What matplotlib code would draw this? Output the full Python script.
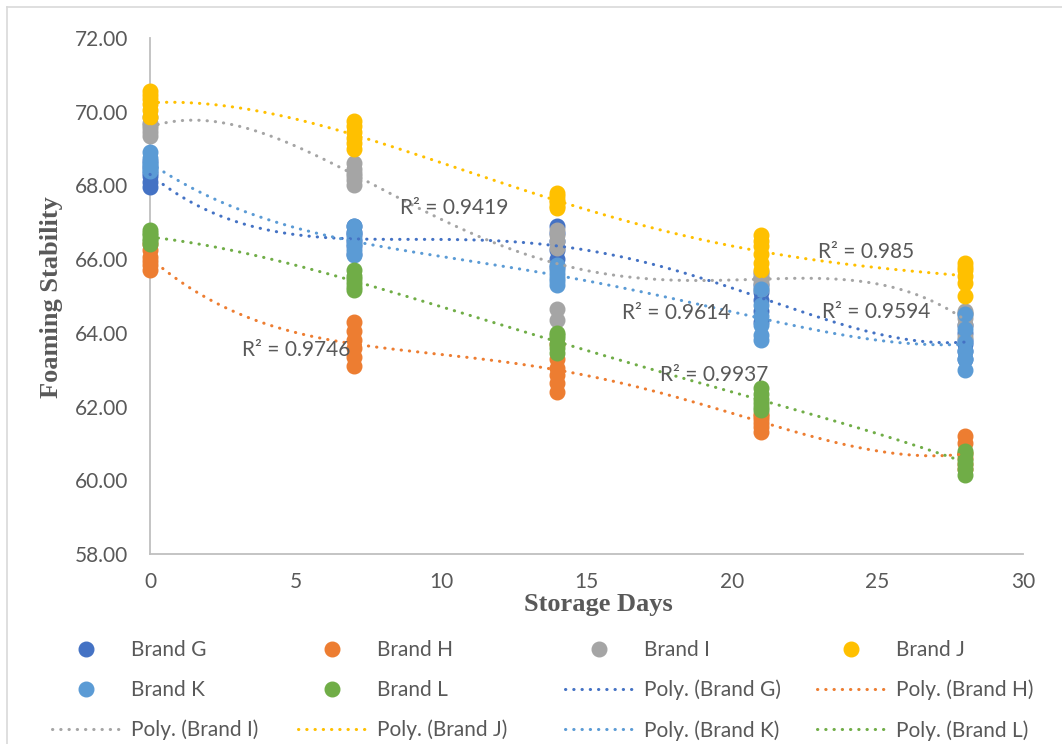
import matplotlib
matplotlib.use("Agg")
import matplotlib.pyplot as plt
from matplotlib.lines import Line2D
import numpy as np

plt.rcParams["font.family"] = ["Lato", "DejaVu Sans"]

days = [0, 7, 14, 21, 28]
brands = ["Brand G", "Brand H", "Brand I", "Brand J", "Brand K", "Brand L"]
colors = ["#4472C4", "#ED7D31", "#A5A5A5", "#FFC000", "#5B9BD5", "#70AD47"]

# replicate readings per storage day (0, 7, 14, 21, 28)
brand_g = [[67.95, 68.10, 68.25, 68.35, 68.50, 68.65],
           [66.15, 66.35, 66.50, 66.65, 66.75, 66.90],
           [65.80, 66.00, 66.25, 66.50, 66.70, 66.90],
           [64.30, 64.60, 64.90, 65.10, 65.30, 65.50],
           [63.30, 63.50, 63.70, 63.80, 64.00, 64.20]]
brand_h = [[65.70, 65.85, 65.95, 66.05, 66.25, 66.40],
           [63.10, 63.35, 63.60, 63.80, 64.05, 64.30],
           [62.40, 62.65, 62.85, 63.05, 63.30, 63.70],
           [61.30, 61.45, 61.55, 61.65, 61.75, 61.80],
           [60.30, 60.45, 60.60, 60.75, 61.00, 61.20]]
brand_i = [[69.35, 69.45, 69.55, 69.65, 69.70, 69.85],
           [68.00, 68.15, 68.25, 68.35, 68.45, 68.60],
           [64.35, 64.65, 66.30, 66.50, 66.65, 66.80],
           [65.20, 65.35, 65.45, 65.50, 65.60, 65.65],
           [63.90, 64.20, 64.40, 64.50, 64.55, 64.60]]
brand_j = [[69.85, 70.05, 70.20, 70.35, 70.45, 70.55],
           [69.00, 69.15, 69.30, 69.45, 69.60, 69.75],
           [67.40, 67.45, 67.55, 67.60, 67.70, 67.80],
           [65.70, 65.90, 66.15, 66.35, 66.50, 66.65],
           [65.00, 65.35, 65.55, 65.70, 65.80, 65.90]]
brand_k = [[68.40, 68.45, 68.55, 68.60, 68.75, 68.90],
           [66.10, 66.25, 66.40, 66.55, 66.70, 66.90],
           [65.30, 65.40, 65.50, 65.60, 65.70, 65.85],
           [63.80, 63.95, 64.20, 64.45, 64.75, 65.20],
           [63.00, 63.30, 63.50, 63.75, 64.10, 64.50]]
brand_l = [[66.40, 66.50, 66.55, 66.65, 66.70, 66.80],
           [65.15, 65.25, 65.35, 65.45, 65.55, 65.70],
           [63.45, 63.60, 63.70, 63.85, 63.95, 64.00],
           [61.90, 62.00, 62.10, 62.20, 62.35, 62.50],
           [60.15, 60.30, 60.45, 60.55, 60.70, 60.80]]
series = [brand_g, brand_h, brand_i, brand_j, brand_k, brand_l]

r2_labels = ["R² = 0.9419", "R² = 0.985", "R² = 0.9614",
             "R² = 0.9594", "R² = 0.9746", "R² = 0.9937"]

grey = "#595959"
dots = dict(lw=2.2, ls=(0, (0.1, 2.6)), dash_capstyle="round")

fig = plt.figure(figsize=(10.62, 7.44), dpi=100)
ax = fig.add_axes([150/1062, 1-554/744, (1023-150)/1062, (554-38)/744])

xs_fit = np.linspace(0, 28, 300)
pt_handles = []
line_handles = []
for name, col, data in zip(brands, colors, series):
    x = np.repeat(days, [len(v) for v in data])
    y = np.concatenate(data)
    ax.plot(x, y, "o", ms=10.5, color=col, mec=col, clip_on=False, zorder=3)
    pt_handles.append(Line2D([], [], marker="o", ls="none", ms=10.5, color=col))
for name, col, data in zip(brands, colors, series):
    x = np.repeat(days, [len(v) for v in data])
    y = np.concatenate(data)
    coef = np.polyfit(x, y, 4)
    ax.plot(xs_fit, np.polyval(coef, xs_fit), color=col, zorder=4,
            clip_on=False, **dots)
    line_handles.append(Line2D([], [], color=col, **dots))

# R² labels where Excel left them
spots = [(8.6, 67.39), (22.96, 66.19), (16.22, 64.54),
         (23.09, 64.57), (3.16, 63.54), (17.53, 62.86)]
for lab, (tx, ty) in zip(r2_labels, spots):
    ax.text(tx, ty, lab, fontsize=15, color=grey, ha="left", va="center", zorder=5)

ax.set_xlim(0, 30)
ax.set_ylim(58, 72)
ax.set_xticks(range(0, 31, 5))
ax.set_yticks(np.arange(58, 72.1, 2))
ax.set_yticklabels([f"{v:.2f}" for v in np.arange(58, 72.1, 2)])
ax.tick_params(length=0, labelsize=15, labelcolor=grey)
ax.tick_params(axis="y", pad=16)
ax.tick_params(axis="x", pad=13)
for s in ["top", "right"]:
    ax.spines[s].set_visible(False)
for s in ["left", "bottom"]:
    ax.spines[s].set_color("#BFBFBF")
    ax.spines[s].set_linewidth(1.3)

serif = ["Liberation Serif", "DejaVu Serif"]
fig.text(598/1062, 1-605/744, "Storage Days", ha="center", va="center",
         fontsize=19, fontweight="bold", family=serif, color=grey)
fig.text(52/1062, 1-297/744, "Foaming Stability", ha="center", va="center",
         rotation=90, fontsize=19, fontweight="bold", family=serif, color=grey)

# legend: Excel fills rows, so build one legend per column
all_h = pt_handles + line_handles
all_l = brands + [f"Poly. ({b})" for b in brands]
col_x = [52, 298, 565, 817]
for c in range(4):
    idx = [c, c + 4, c + 8]
    leg = fig.legend([all_h[i] for i in idx], [all_l[i] for i in idx],
                     loc="upper left", bbox_to_anchor=(col_x[c]/1062, 1-640/744),
                     frameon=False, fontsize=15, handlelength=3.3,
                     handletextpad=0.5, labelspacing=0.95, borderpad=0,
                     borderaxespad=0, labelcolor=grey)

# chart area border
fig.add_artist(Line2D([7/1062, 1], [1-7/744, 1-7/744], color="#D9D9D9", lw=1.2))
fig.add_artist(Line2D([7/1062, 7/1062], [0, 1-7/744], color="#D9D9D9", lw=1.2))

fig.savefig("out.png", dpi=100)
